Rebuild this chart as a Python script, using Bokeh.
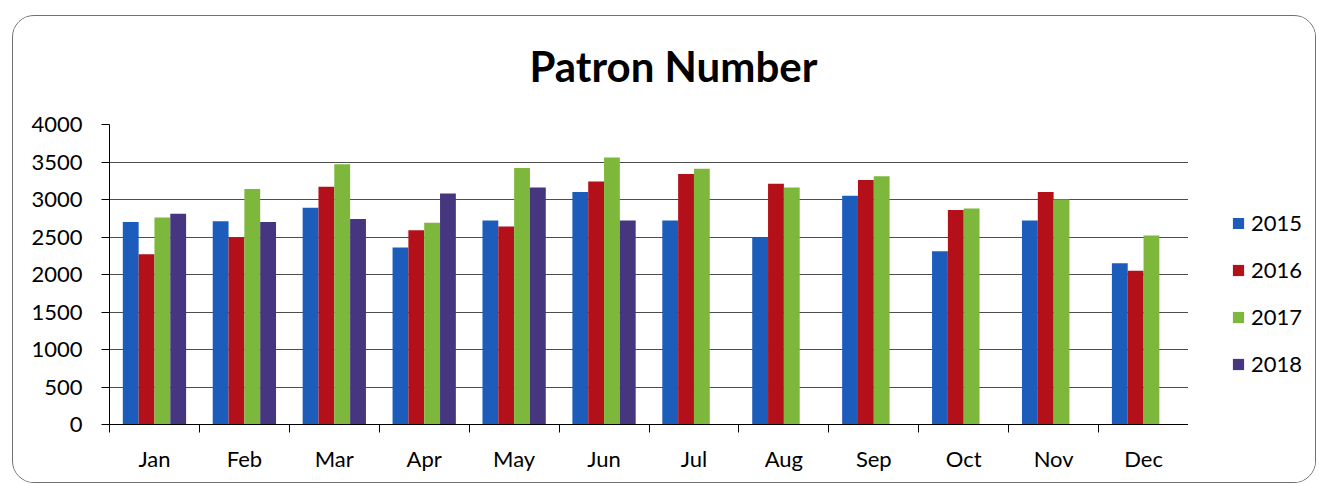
from bokeh.plotting import figure
from bokeh.models import (ColumnDataSource, FixedTicker, Legend, LegendItem, Range1d, Title)
from bokeh.layouts import row
from bokeh.embed import file_html
from bokeh.resources import INLINE
import numpy as np

# Monthly patron counts per year
months = ["Jan", "Feb", "Mar", "Apr", "May", "Jun",
          "Jul", "Aug", "Sep", "Oct", "Nov", "Dec"]
years = ["2015", "2016", "2017", "2018"]
nan = float("nan")
patrons_2015 = [2700, 2710, 2890, 2360, 2720, 3100, 2720, 2490, 3050, 2310, 2720, 2150]
patrons_2016 = [2270, 2490, 3170, 2590, 2640, 3240, 3340, 3210, 3260, 2860, 3100, 2050]
patrons_2017 = [2760, 3140, 3470, 2690, 3420, 3560, 3410, 3160, 3310, 2880, 3000, 2520]
patrons_2018 = [2810, 2700, 2740, 3080, 3160, 2720, nan, nan, nan, nan, nan, nan]
y_ticks = [0, 500, 1000, 1500, 2000, 2500, 3000, 3500, 4000]

series = [patrons_2015, patrons_2016, patrons_2017, patrons_2018]
colors = ["#1c5cba", "#b3101a", "#7db83d", "#46367f"]

FONT = "Lato"
H = 466

centers = np.arange(len(months)) + 0.5
bar_w = 0.176

# Main chart
p = figure(width=1175, height=H, output_backend="svg", toolbar_location=None,
           x_range=Range1d(0, len(months)), y_range=Range1d(0, 4000),
           min_border_left=96, min_border_right=0,
           min_border_top=108, min_border_bottom=58,
           background_fill_color="white", border_fill_color="white")
p.outline_line_color = None

# Heading, held off the plot area by a thin spacer panel
gap = Title(text=" ", text_font_size="1px", standoff=24)
heading = Title(text="Patron Number", text_font=FONT, text_font_size="42px",
                text_font_style="bold", text_color="black",
                align="left", offset=420, vertical_align="top", standoff=10)
p.add_layout(gap, "above")
p.add_layout(heading, "above")

# Grouped bars
renderers = []
for i, (vals, col) in enumerate(zip(series, colors)):
    offset = (i - 1.5) * bar_w
    src = ColumnDataSource(dict(x=centers + offset, top=vals))
    r = p.vbar(x="x", top="top", width=bar_w, source=src,
               fill_color=col, line_color=None)
    renderers.append(r)

# Y axis
yax = p.yaxis[0]
yax.ticker = FixedTicker(ticks=y_ticks)
yax.axis_line_color = "black"
yax.axis_line_width = 1
yax.major_tick_out = 8
yax.major_tick_in = 0
yax.minor_tick_line_color = None
yax.major_tick_line_color = "black"
yax.major_label_text_font = FONT
yax.major_label_text_font_size = "22px"
yax.major_label_text_color = "black"
yax.major_label_standoff = 19

# X axis: labels at month centres, tick marks at month boundaries
xax = p.xaxis[0]
xax.ticker = FixedTicker(ticks=list(centers),
                         minor_ticks=list(range(len(months) + 1)))
xax.major_label_overrides = {float(c): m for c, m in zip(centers, months)}
xax.major_tick_out = 0
xax.major_tick_in = 0
xax.minor_tick_out = 8
xax.minor_tick_in = 0
xax.minor_tick_line_color = "black"
xax.axis_line_color = "black"
xax.major_label_text_font = FONT
xax.major_label_text_font_size = "22px"
xax.major_label_text_color = "black"
xax.major_label_standoff = 12

# Grid
p.xgrid.grid_line_color = None
p.ygrid.ticker = FixedTicker(ticks=y_ticks)
p.ygrid.grid_line_color = "#4d4d4d"
p.ygrid.grid_line_width = 1.2

# Legend panel to the right of the chart
pl = figure(width=127, height=H, output_backend="svg", toolbar_location=None,
            x_axis_type=None, y_axis_type=None,
            min_border_left=0, min_border_right=0,
            min_border_top=0, min_border_bottom=0,
            background_fill_color="white", border_fill_color="white")
pl.outline_line_color = None
pl.xgrid.grid_line_color = None
pl.ygrid.grid_line_color = None
swatches = [pl.vbar(x=[nan], top=[nan], width=1, fill_color=col, line_color=None)
            for col in colors]

legend = Legend(items=[LegendItem(label=y, renderers=[r]) for y, r in zip(years, swatches)],
                location=(43, 47), orientation="vertical",
                padding=0, margin=0, spacing=20,
                glyph_width=14, glyph_height=14, label_height=20,
                label_standoff=6,
                label_text_font=FONT, label_text_font_size="22px",
                label_text_color="black",
                border_line_color=None, background_fill_alpha=0)
pl.add_layout(legend, "center")

# Rounded frame around the whole chart area
layout = row(p, pl)
layout.margin = (15, 0, 0, 12)
layout.styles = {"border": "1.5px solid #707070", "border-radius": "22px",
                 "overflow": "hidden", "background-color": "white"}

open("out.html", "w").write(file_html(layout, INLINE))
